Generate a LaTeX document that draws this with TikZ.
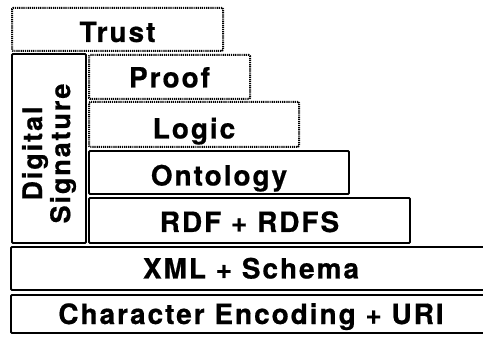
\documentclass[tikz,border=0pt]{standalone}
\usepackage{fontspec}
\newfontfamily\layerfont{TeX Gyre Heros}[LetterSpace=7, FakeBold=0.6]
\begin{document}
\begin{tikzpicture}[x=1pt, y=-1pt,
    layer/.style={draw, line width=1.8pt, rounded corners=1pt, inner sep=0pt,
      font=\layerfont\bfseries\fontsize{28}{28}\selectfont,
      text height=20pt, text depth=0pt},
    future/.style={layer, line width=2pt, dash pattern=on 1.2pt off 0.9pt},
    sigbox/.style={draw, line width=1.8pt, rounded corners=1pt, inner sep=0pt},
    sigtext/.style={inner sep=0pt, rotate=90, align=center,
      font=\layerfont\bfseries\fontsize{27}{28}\selectfont}]
  \useasboundingbox (0,0) rectangle (483,337);
  \clip (0,0) rectangle (483,337);
  % upper layers (dotted)
  \node[future, minimum width=211pt, minimum height=43pt, text height=25pt] (trust) at (117.5,29.5) {Trust};
  \node[future, minimum width=161pt, minimum height=44pt, text height=21pt] (proof) at (169.5,77) {Proof};
  \node[future, minimum width=210pt, minimum height=45pt, text height=28pt] (logic) at (194,124.5) {Logic};
  % lower layers
  \node[layer, minimum width=260pt, minimum height=43pt, text height=26pt] (ontology) at (219,172.5) {Ontology};
  \node[layer, minimum width=321pt, minimum height=45pt, text height=23pt] (rdf) at (249.5,220.5) {RDF + RDFS};
  \node[layer, minimum width=480pt, minimum height=43pt] (xml) at (251,268.5) {XML + Schema};
  \node[layer, minimum width=480pt, minimum height=38pt] (uri) at (251,314) {Character Encoding + URI};
  % side column
  \node[sigbox, minimum width=74pt, minimum height=189pt] (sig) at (49,148.5) {};
  \node[sigtext] (sigtxt) at ([yshift=-5pt]sig.center) {Digital\\Signature};
\end{tikzpicture}
\end{document}
